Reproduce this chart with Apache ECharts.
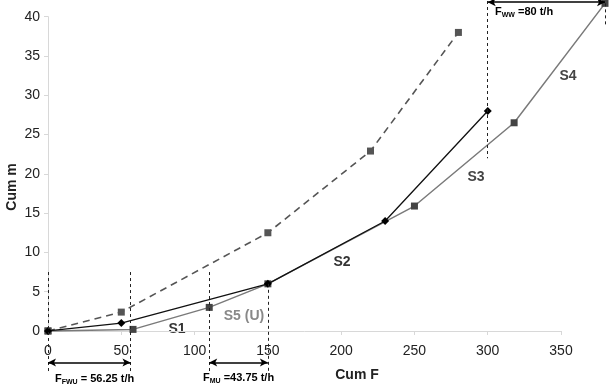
<!DOCTYPE html>
<html>
<head>
<meta charset="utf-8">
<script src="https://cdn.jsdelivr.net/npm/echarts@6/dist/echarts.min.js"></script>
<style>
  html, body { margin: 0; padding: 0; background: #fff; }
  #chart { width: 614px; height: 388px; }
</style>
</head>
<body>
<div id="chart"></div>
<script>
// values: [Cum F, Cum m]
const dashedPts = [[0, 0], [50, 2.4], [150, 12.5], [220, 22.9], [280, 38]];
const blackPts = [[0, 0], [50, 1], [150, 6], [230, 14], [300, 28]];
const grayPts = [[0, 0], [58, 0.2], [110, 3], [150, 6], [250, 15.9], [318, 26.5], [380, 41.7]];

// dashed guide lines: [x, yFrom, yTo]
const guides = [[0, 7.5, -5.2], [56.25, 7.5, -5.2], [110, 7.5, -5.2], [150, 6, -5.2], [300, 42, 22], [380, 41.7, 39]];
// flow arrows: [xFrom, xTo, y]
const arrows = [[0, 56.25, -4], [110, 150, -4], [300, 380, 41.85]];

const xTicks = [0, 50, 100, 150, 200, 250, 300, 350];

const chart = echarts.init(document.getElementById('chart'));
const font = 'Liberation Sans, Arial, sans-serif';

const markData = [
  ...guides.map(g => [
    { coord: [g[0], g[1]], symbol: 'none', lineStyle: { type: [3, 3], width: 1, color: '#222' } },
    { coord: [g[0], g[2]], symbol: 'none' }
  ]),
  ...arrows.map(a => [
    { coord: [a[0], a[2]], lineStyle: { type: 'solid', width: 1.5, color: '#000' } },
    { coord: [a[1], a[2]] }
  ])
];

const sub = {
  a: { fontSize: 11, fontWeight: 'bold', fontFamily: font, color: '#222', lineHeight: 14 },
  s: { fontSize: 7, fontWeight: 'bold', fontFamily: font, color: '#222', lineHeight: 14, padding: [6, 0, 0, 0] }
};
const segLabel = (x, y, t, c) => ({
  type: 'text', x: x, y: y,
  style: { text: t, fill: c, font: 'bold 14px ' + font, textAlign: 'center', textVerticalAlign: 'middle' }
});

// grid 0 shows the axes (0-350, 0-40); grid 1 has the same scale but a wider
// range so marks drawn past the axes are kept
chart.setOption({
  animation: false,
  grid: [
    { left: 48, right: 53, top: 16.7, bottom: 57 },
    { left: 48, right: 9, top: 1, bottom: 9.9 }
  ],
  xAxis: [
    {
      type: 'value', min: 0, max: 350, interval: 50, gridIndex: 0,
      splitLine: { show: false },
      axisLine: { lineStyle: { color: '#d8d8d8' } },
      axisTick: { show: true, length: 4, lineStyle: { color: '#d8d8d8' } },
      axisLabel: { margin: 13, fontSize: 14, color: '#222', fontFamily: font,
        formatter: v => xTicks.includes(v) ? String(v) : '' }
    },
    { type: 'value', min: 0, max: 380, gridIndex: 1, show: false }
  ],
  yAxis: [
    {
      type: 'value', min: 0, max: 40, interval: 5, gridIndex: 0,
      splitLine: { show: false },
      axisLine: { show: true, lineStyle: { color: '#d8d8d8' } },
      axisTick: { show: true, length: 4, lineStyle: { color: '#d8d8d8' } },
      axisLabel: { margin: 8, fontSize: 14, color: '#222', fontFamily: font }
    },
    { type: 'value', min: -6, max: 42, gridIndex: 1, show: false }
  ],
  series: [
    {
      type: 'line', data: dashedPts, xAxisIndex: 1, yAxisIndex: 1, z: 3,
      symbol: 'rect', symbolSize: 7,
      itemStyle: { color: '#555' },
      lineStyle: { color: '#555', width: 1.6, type: [7, 5] }
    },
    {
      type: 'line', data: grayPts, xAxisIndex: 1, yAxisIndex: 1, z: 3,
      symbol: 'rect', symbolSize: 7,
      itemStyle: { color: '#444' },
      lineStyle: { color: '#7a7a7a', width: 1.5 }
    },
    {
      type: 'line', data: blackPts, xAxisIndex: 1, yAxisIndex: 1, z: 4,
      symbol: 'diamond', symbolSize: 8,
      itemStyle: { color: '#000' },
      lineStyle: { color: '#111', width: 1.3 }
    },
    {
      type: 'line', data: [], xAxisIndex: 1, yAxisIndex: 1, z: 5,
      markLine: {
        silent: true, animation: false,
        symbol: ['arrow', 'arrow'], symbolSize: [6, 8],
        label: { show: false },
        lineStyle: { color: '#000' },
        data: markData
      }
    }
  ],
  graphic: [
    { type: 'text', x: 12, y: 187, rotation: Math.PI / 2,
      style: { text: 'Cum m', font: 'bold 14px ' + font, fill: '#222', textAlign: 'center', textVerticalAlign: 'middle' } },
    { type: 'text', x: 357, y: 375,
      style: { text: 'Cum F', font: 'bold 14px ' + font, fill: '#222', textAlign: 'center', textVerticalAlign: 'middle' } },
    segLabel(177, 329, 'S1', '#333'),
    segLabel(244, 316, 'S5 (U)', '#888'),
    segLabel(342, 262, 'S2', '#333'),
    segLabel(476, 177, 'S3', '#444'),
    segLabel(568, 76, 'S4', '#444'),
    { type: 'text', x: 55, y: 372, style: { text: '{a|F}{s|FWU}{a| = 56.25 t/h}', rich: sub } },
    { type: 'text', x: 203, y: 371, style: { text: '{a|F}{s|MU}{a| =43.75 t/h}', rich: sub } },
    { type: 'text', x: 495, y: 5, style: { text: '{a|F}{s|WW}{a| =80 t/h}', rich: sub } }
  ]
});
</script>
</body>
</html>
